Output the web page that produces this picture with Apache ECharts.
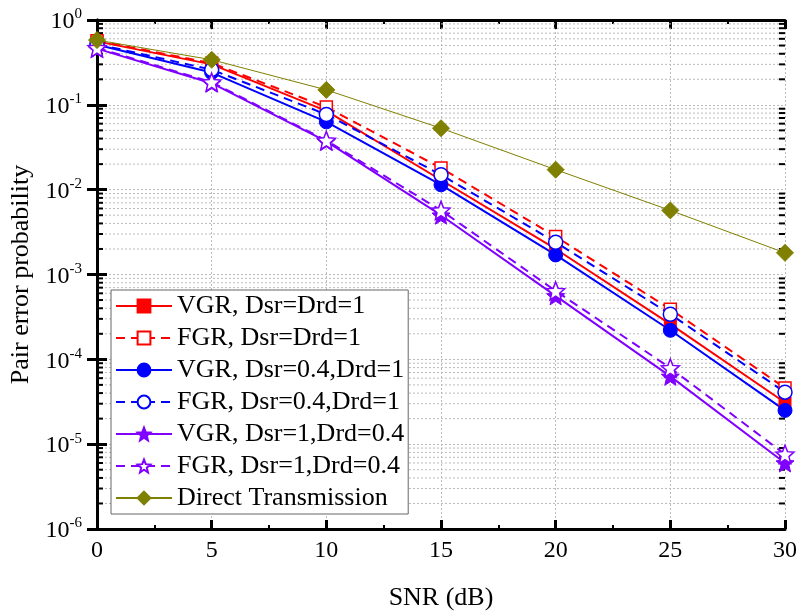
<!DOCTYPE html>
<html><head><meta charset="utf-8">
<script src="https://cdn.jsdelivr.net/npm/echarts@6/dist/echarts.min.js"></script>
<style>html,body{margin:0;padding:0;background:#fff}#c{width:802px;height:616px}</style>
</head><body><div id="c"></div>
<script>
const snr = [0, 5, 10, 15, 20, 25, 30];
const vgr1 = [0.56, 0.30, 0.085, 0.013, 0.0020, 2.6e-4, 3.1e-5];
const fgr1 = [0.57, 0.31, 0.094, 0.018, 0.0028, 3.9e-4, 4.6e-5];
const vgrSr04 = [0.51, 0.24, 0.063, 0.0114, 0.0017, 2.2e-4, 2.5e-5];
const fgrSr04 = [0.52, 0.26, 0.077, 0.015, 0.0024, 3.4e-4, 4.1e-5];
const vgrRd04 = [0.46, 0.18, 0.037, 0.0050, 5.6e-4, 6.3e-5, 6.0e-6];
const fgrRd04 = [0.47, 0.185, 0.038, 0.0057, 6.4e-4, 7.9e-5, 7.6e-6];
const direct = [0.58, 0.34, 0.15, 0.053, 0.0172, 0.0057, 0.0018];
const names = ['VGR, Dsr=Drd=1', 'FGR, Dsr=Drd=1', 'VGR, Dsr=0.4,Drd=1', 'FGR, Dsr=0.4,Drd=1', 'VGR, Dsr=1,Drd=0.4', 'FGR, Dsr=1,Drd=0.4', 'Direct Transmission'];

// minor log grid values (2..9 x 10^k)
const minorVals = [];
for (let k = -6; k < 0; k++) for (let m = 2; m <= 9; m++) minorVals.push(m * Math.pow(10, k));

const FONT = '"Liberation Serif", "Times New Roman", serif';
const STAR = 'path://M0,-10 L2.6,-3.6 9.5,-3.1 4.2,1.4 5.9,8.1 0,4.4 -5.9,8.1 -4.2,1.4 -9.5,-3.1 -2.6,-3.6 Z';
const pair = arr => snr.map((x, i) => [x, arr[i]]);

function mkSeries(name, data, color, dashed, symbol, size, open, width) {
  return {
    name, type: 'line', data: pair(data), symbol, symbolSize: size,
    lineStyle: { color, width: width || 2, type: dashed ? [9, 6] : 'solid' },
    itemStyle: open ? { color: '#fff', borderColor: color, borderWidth: 1.5 } : { color, borderColor: color, borderWidth: 1 },
    z: 5
  };
}

const chart = echarts.init(document.getElementById('c'), null, { renderer: 'canvas' });
const axisLine = { show: true, lineStyle: { color: '#000', width: 3 } };
chart.setOption({
  animation: false,
  backgroundColor: '#fff',
  textStyle: { fontFamily: FONT },
  grid: { left: 97, right: 17, top: 20, bottom: 84, containLabel: false },
  legend: {
    data: names, orient: 'vertical', left: 111, top: 290,
    backgroundColor: '#fff', borderColor: '#666', borderWidth: 1,
    padding: [3, 4, 3, 4], itemWidth: 56, itemHeight: 16, itemGap: 6,
    textStyle: { fontFamily: FONT, fontSize: 26, color: '#000' }
  },
  xAxis: [{
    type: 'value', min: 0, max: 30, interval: 5,
    name: 'SNR (dB)', nameLocation: 'middle', nameGap: 56,
    nameTextStyle: { fontFamily: FONT, fontSize: 26, color: '#000' },
    axisLine, axisTick: { inside: true, length: 9, lineStyle: { width: 3, color: '#000' } },
    minorTick: { show: true, splitNumber: 2, length: 4, lineStyle: { width: 2, color: '#000' } },
    axisLabel: { fontFamily: FONT, fontSize: 24, color: '#000', margin: 10 },
    splitLine: { show: true, lineStyle: { color: '#bbb', type: [2, 2], width: 1 } }
  }, {
    type: 'value', min: 0, max: 30, interval: 5, position: 'top',
    axisLine, axisTick: { inside: true, length: 9, lineStyle: { width: 3, color: '#000' } },
    minorTick: { show: true, splitNumber: 2, length: 4, lineStyle: { width: 2, color: '#000' } },
    axisLabel: { show: false }, splitLine: { show: false }
  }],
  yAxis: [{
    type: 'log', logBase: 10, min: 1e-6, max: 1,
    name: 'Pair error probability', nameLocation: 'middle', nameGap: 59,
    nameTextStyle: { fontFamily: FONT, fontSize: 26, color: '#000' },
    axisLine, axisTick: { inside: true, length: 10, lineStyle: { width: 3, color: '#000' } },
    axisLabel: {
      margin: 15, color: '#000',
      formatter: v => '{b|10}{s|' + Math.round(Math.log10(v)) + '}',
      rich: {
        b: { fontFamily: FONT, fontSize: 24, color: '#000', verticalAlign: 'bottom', lineHeight: 28 },
        s: { fontFamily: FONT, fontSize: 15, color: '#000', verticalAlign: 'bottom', lineHeight: 28, padding: [0, 0, 12, 0] }
      }
    },
    splitLine: { show: true, lineStyle: { color: '#bbb', type: [2, 2], width: 1 } }
  }, {
    type: 'log', logBase: 10, min: 1e-6, max: 1, position: 'right',
    axisLine, axisTick: { inside: true, length: 10, lineStyle: { width: 3, color: '#000' } },
    axisLabel: { show: false }, splitLine: { show: false }
  }],
  series: [
    {
      type: 'custom', name: 'minorgrid', silent: true, z: 1, clip: false,
      data: minorVals.map(v => [0, v]),
      renderItem: function (params, api) {
        const v = api.value(1);
        const p0 = api.coord([0, v]);
        const p1 = api.coord([30, v]);
        return {
          type: 'group', children: [
            { type: 'line', shape: { x1: p0[0], y1: p0[1], x2: p1[0], y2: p1[1] }, style: { stroke: '#bbb', lineWidth: 1, lineDash: [2, 2] } },
            { type: 'line', shape: { x1: p0[0], y1: p0[1], x2: p0[0] + 6, y2: p0[1] }, style: { stroke: '#000', lineWidth: 2 } },
            { type: 'line', shape: { x1: p1[0] - 6, y1: p1[1], x2: p1[0], y2: p1[1] }, style: { stroke: '#000', lineWidth: 2 } }
          ]
        };
      }
    },
    mkSeries(names[0], vgr1, '#ff0000', false, 'rect', 12, false),
    mkSeries(names[1], fgr1, '#ff0000', true, 'rect', 12, true),
    mkSeries(names[2], vgrSr04, '#0000ff', false, 'circle', 14, false),
    mkSeries(names[3], fgrSr04, '#0000ff', true, 'circle', 14, true),
    mkSeries(names[4], vgrRd04, '#8000ff', false, STAR, 18, false),
    mkSeries(names[5], fgrRd04, '#8000ff', true, STAR, 18, true),
    mkSeries(names[6], direct, '#808000', false, 'diamond', 17, false, 1)
  ]
});
</script></body></html>
